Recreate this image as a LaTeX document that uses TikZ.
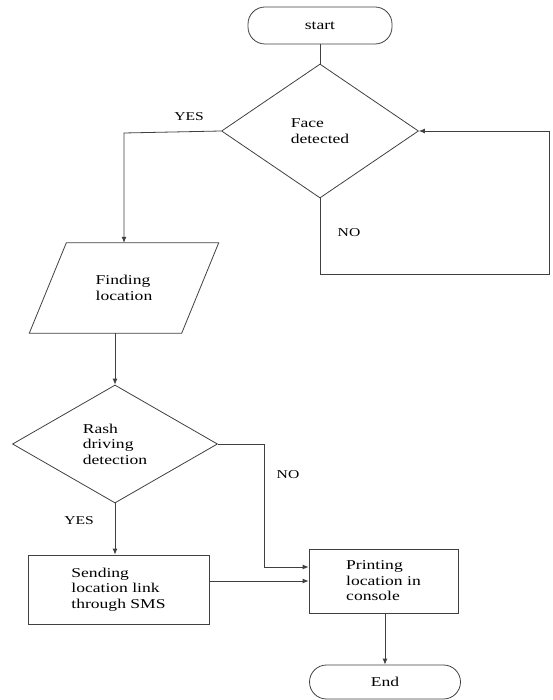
\documentclass[tikz,border=0pt]{standalone}
\usepackage{fontspec}
\setmainfont{Liberation Serif}[FakeStretch=1.3]
\usetikzlibrary{arrows.meta,shapes.geometric,calc}
\begin{document}
\begin{tikzpicture}[x=1pt,y=-1pt,
  line/.style={draw=black!75, line width=0.8pt},
  arrow/.style={line, -{Latex[length=6pt,width=5pt]}},
  txt/.style={font=\fontsize{13.5}{15.5}\selectfont, align=left, text=black},
  lbl/.style={font=\fontsize{12}{14}\selectfont, text=black, inner sep=0},
  term/.style={line, txt, rectangle, rounded corners=17pt, inner sep=0},
  decision/.style={line, txt, diamond, inner sep=0},
  proc/.style={line, txt, rectangle, inner sep=0}]
\useasboundingbox (0,0) rectangle (553,700);

\node[term, minimum width=144pt, minimum height=37pt] (start) at (320,25.5) {start};
\node[decision, minimum width=197pt, minimum height=134pt] (face) at (320,131) {Face\\detected};
\node[txt, minimum width=152pt, minimum height=90pt, inner sep=0] (find) at (124,288) {Finding\\location};
\draw[line] ([xshift=18.5pt]find.north west) -- ([xshift=18.5pt]find.north east)
  -- ([xshift=-18.5pt]find.south east) -- ([xshift=-18.5pt]find.south west) -- cycle;
\node[decision, minimum width=205pt, minimum height=118pt] (rash) at (115,444) {Rash\\driving\\detection};
\node[proc, minimum width=181pt, minimum height=69pt] (send) at (118.5,589.5) {Sending\\location link\\through SMS};
\node[proc, minimum width=149pt, minimum height=64pt] (print) at (383.5,581) {Printing\\location in\\console};
\node[term, minimum width=151pt, minimum height=34pt] (end) at (385,682) {End};

\coordinate (l1) at (320,274);
\coordinate (l2) at (549,274);
\coordinate (yc) at (124,133);
\coordinate (nc) at (264,567);

\draw[line] (start.south) -- (face.north);
\draw[arrow] (face.west) -- (yc) -- (yc |- find.north);
\draw[arrow] (face.south) -- (l1) -- (l2) |- (face.east);
\draw[arrow] (find.south -| rash.north) -- (rash.north);
\draw[arrow] (rash.south) -- (rash.south |- send.north);
\draw[arrow] (rash.east) -| (nc) -- (nc -| print.west);
\draw[arrow] (print.west -| send.east) -- (print.west);
\draw[arrow] (print.south -| end.north) -- (end.north);

\node[lbl] (yes1) at (189,117) {YES};
\node[lbl] (no1) at (349,233) {NO};
\node[lbl] (yes2) at (79,521) {YES};
\node[lbl] (no2) at (288,475) {NO};
\end{tikzpicture}
\end{document}
